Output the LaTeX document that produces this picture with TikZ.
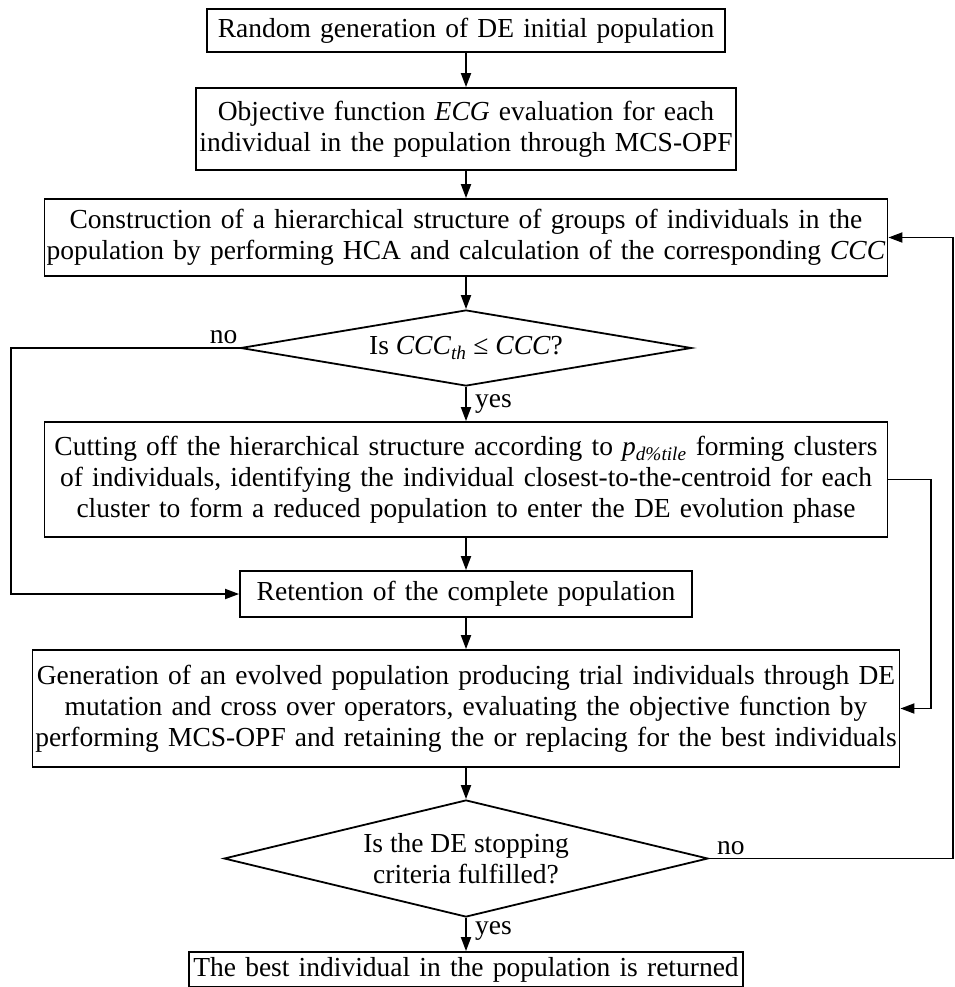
\documentclass[tikz,border=0pt]{standalone}
\usepackage{fontspec}
\setmainfont{Liberation Serif}
\usetikzlibrary{shapes.geometric,positioning,arrows.meta}

\begin{document}
\begin{tikzpicture}[x=1pt,y=-1pt,on grid,line width=1.8pt,
    >={Triangle[length=14pt,width=10pt]},font=\fontsize{27.5}{31}\selectfont,
    box/.style={draw,rectangle,align=center,inner sep=0pt},
    test/.style={draw,diamond,align=center,inner sep=0pt}]
    \useasboundingbox (0,0) rectangle (954,987);

    \node[box,text width=518pt,minimum height=43pt] (start) at (466,30.5) {Random generation of DE initial population};
    \node[box,text width=540pt,minimum height=82pt] (eval) [below=98.5pt of start] {Objective function \textit{ECG} evaluation for each\\individual in the population through MCS-OPF};
    \node[box,text width=843pt,minimum height=77pt] (hca) [below=108.5pt of eval] {Construction of a hierarchical structure of groups of individuals in the\\population by performing HCA and calculation of the corresponding \textit{CCC}};
    \node[test,aspect=5.9,minimum width=451pt,minimum height=76pt] (cccq) [below=110.5pt of hca] {Is \textit{CCC}\textsubscript{\textit{th}} ≤ \textit{CCC}?};
    \node[box,text width=843pt,minimum height=115pt] (cut) [below=131.5pt of cccq] {Cutting off the hierarchical structure according to \textit{p}\textsubscript{\textit{d\%tile}} forming clusters\\of individuals, identifying the individual closest-to-the-centroid for each\\cluster to form a reduced population to enter the DE evolution phase};
    \node[box,text width=452pt,minimum height=46pt] (keep) [below=114.5pt of cut] {Retention of the complete population};
    \node[box,text width=867pt,minimum height=117pt] (evolve) [below=114.5pt of keep] {Generation of an evolved population producing trial individuals through DE\\mutation and cross over operators, evaluating the objective function by\\performing MCS-OPF and retaining the or replacing for the best individuals};
    \node[test,aspect=4.1,minimum width=484pt,minimum height=117pt] (stopq) [below=150pt of evolve] {Is the DE stopping\\criteria fulfilled?};
    \node[box,text width=554pt,minimum height=35pt] (best) [below=111pt of stopq] {The best individual in the population is returned};

    \path[->] (start) edge (eval);
    \path[->] (eval) edge (hca);
    \path[->] (hca) edge (cccq);
    \path[->] (cccq) edge node[right,xshift=5pt] {yes} (cut);
    \path[->] (cut) edge (keep);
    \path[->] (keep) edge (evolve);
    \path[->] (evolve) edge (stopq);
    \path[->] (stopq) edge node[right,xshift=5pt,pos=0.4] {yes} (best);

    % loops back
    \draw[->] (cccq.west) -- node[above,pos=0.07] {no} ++(-228.5,0) |- (keep.west);
    \draw[->] (cut.east) -- ++(42.5,0) |- (evolve.east);
    \draw[->] (stopq.east) -- node[above,pos=0.09] {no} ++(244,0) |- (hca.east);
\end{tikzpicture}
\end{document}
